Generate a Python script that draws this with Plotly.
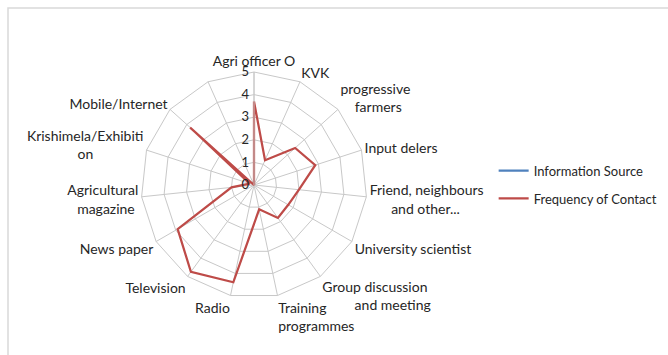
import plotly.graph_objects as go

NB = "\u00a0"
categories = ["Agri officer O", "KVK", "progressive<br>" + NB * 4 + "farmers", "Input delers",
              "Friend, neighbours<br>" + NB * 6 + "and other...", "University scientist",
              "Group discussion<br>" + NB * 9 + "and meeting", "Training<br>programmes", "Radio",
              "Television", "News paper", "Agricultural<br>magazine" + NB,
              "Krishimela/Exhibiti<br>on" + NB * 14, "Mobile/Internet", " "]
frequency_of_contact = [3.7, 1.2, 2.45, 2.85, 2.0, 1.75, 1.8, 1.1, 4.4, 4.75, 3.9, 1.0, 0.2, 3.8, 0]
information_source = [None] * len(categories)
radial_ticks = [0, 1, 2, 3, 4, 5]

W, H = 668, 355
cx, cy, R = 254, 185, 113

FONT = "Lato"

fig = go.Figure()
fig.add_trace(go.Scatterpolar(
    r=information_source + [information_source[0]],
    theta=categories + [categories[0]],
    mode="lines", name="Information Source", legendgroup="a",
    line=dict(color="#4F81BD", width=2.25),
))
fig.add_trace(go.Scatterpolar(
    r=frequency_of_contact + [frequency_of_contact[0]],
    theta=categories + [categories[0]],
    mode="lines", name="Frequency of Contact", legendgroup="b",
    line=dict(color="#BE4B48", width=2.25),
))

fig.update_layout(
    width=W, height=H,
    margin=dict(l=0, r=0, t=0, b=0, autoexpand=False),
    paper_bgcolor="white",
    font=dict(family=FONT, size=14, color="#262626"),
    polar=dict(
        domain=dict(x=[(cx - R) / W, (cx + R) / W], y=[1 - (cy + R) / H, 1 - (cy - R) / H]),
        bgcolor="white",
        gridshape="linear",
        angularaxis=dict(
            rotation=90, direction="clockwise", type="category",
            showgrid=True, gridcolor="#C8C8C8", gridwidth=1,
            linecolor="#C8C8C8", linewidth=1, ticks="",
            tickfont=dict(family=FONT, size=14, color="#262626"),
        ),
        radialaxis=dict(
            range=[0, 5], tickvals=radial_ticks, angle=90, tickangle=90,
            showgrid=True, gridcolor="#C8C8C8", gridwidth=1,
            showline=True, linecolor="#C8C8C8", linewidth=1, ticks="",
            side="counterclockwise",
            tickfont=dict(family=FONT, size=13, color="#262626"),
        ),
    ),
    legend=dict(
        x=0.739, y=0.48, xanchor="left", yanchor="middle",
        font=dict(family=FONT, size=13, color="#262626"),
        itemwidth=30, tracegroupgap=8, bgcolor="rgba(0,0,0,0)",
    ),
    shapes=[dict(type="rect", xref="paper", yref="paper",
                 x0=8 / W, x1=1.02, y0=-0.02, y1=1 - 8 / H,
                 line=dict(color="#D9D9D9", width=1.5))],
)

fig.write_html("out.html")
